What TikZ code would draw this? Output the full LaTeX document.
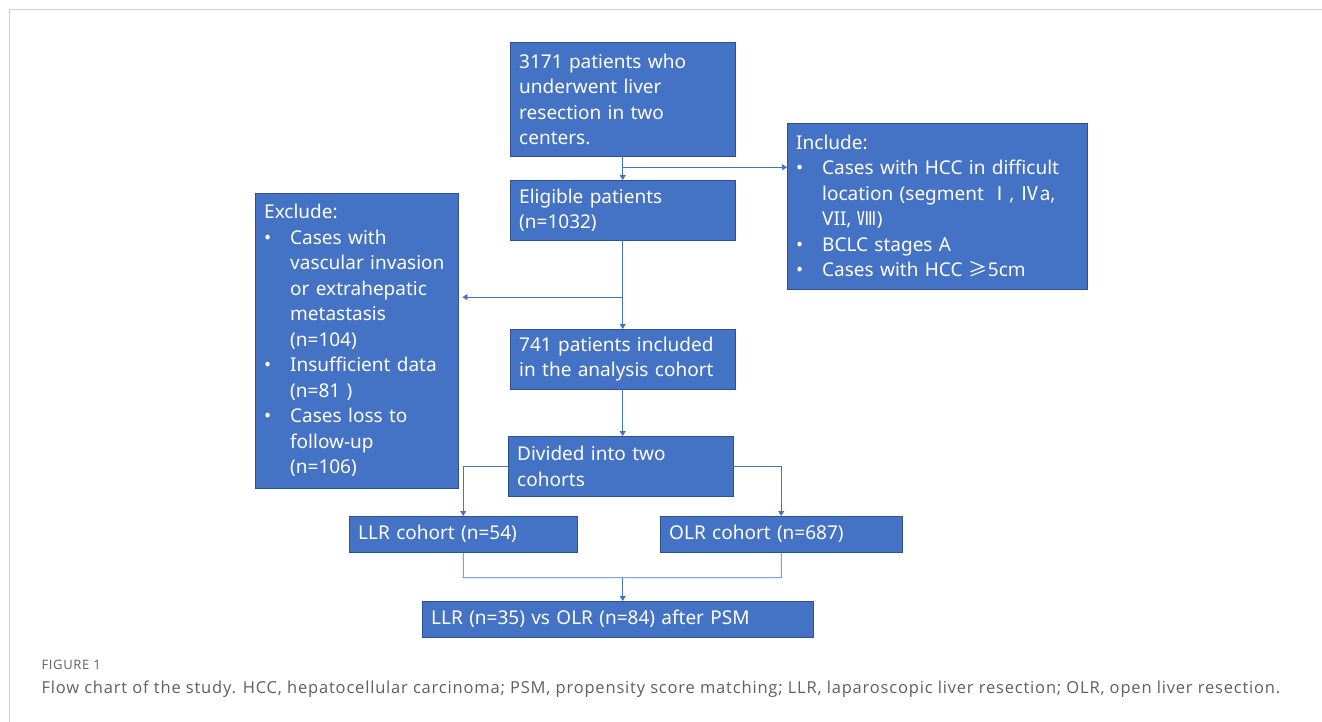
\documentclass[tikz,border=0pt]{standalone}
\usepackage{fontspec}
\setmainfont{Noto Sans}
\newfontfamily\cjk{Noto Sans CJK SC}
\newfontfamily\capfont[LetterSpace=5]{Open Sans}
\usetikzlibrary{arrows.meta,calc}
\definecolor{boxblue}{RGB}{68,114,196}
\definecolor{boxedge}{RGB}{47,82,143}
\definecolor{capgray}{RGB}{95,95,95}
\definecolor{framegray}{RGB}{205,205,205}
\newcommand{\bul}{\makebox[26pt][l]{\textbullet}}
\newcommand{\ind}{\hspace*{26pt}}

\begin{document}
\begin{tikzpicture}[x=1pt, y=-1pt,
    box/.style={draw=boxedge, fill=boxblue, text=white, anchor=north west,
      inner xsep=9pt, inner ysep=3pt, align=left,
      font=\fontsize{19}{25.5}\selectfont},
    link/.style={draw=boxblue, line width=0.8pt},
    arr/.style={link, -{Triangle[width=6pt,length=5pt]}}]

    \useasboundingbox (0,0) rectangle (1322,722);
    \draw[framegray] (9,722) -- (9,9) -- (1322,9);

    % boxes
    \node[box, minimum width=225pt, minimum height=114pt, text width=207pt] (start) at (510,42)
      {3171 patients who\\underwent liver\\resection in two\\centers.};
    \node[box, minimum width=225pt, minimum height=60pt, text width=207pt] (elig) at (510,180)
      {Eligible patients\\(n=1032)};
    \node[box, minimum width=300pt, minimum height=166pt, text width=282pt] (incl) at (787,123)
      {Include:\\
       \bul Cases with HCC in difficult\\
       \ind location (segment {\cjk Ⅰ}, {\cjk Ⅳ}a,\\
       \ind VII, {\cjk Ⅷ})\\
       \bul BCLC stages A\\
       \bul Cases with HCC {\cjk ≥}5cm};
    \node[box, minimum width=203pt, minimum height=295pt, text width=185pt] (excl) at (255,193)
      {Exclude:\\
       \bul Cases with\\
       \ind vascular invasion\\
       \ind or extrahepatic\\
       \ind metastasis\\
       \ind (n=104)\\
       \bul Insufficient data\\
       \ind (n=81 )\\
       \bul Cases loss to\\
       \ind follow-up\\
       \ind (n=106)};
    \node[box, minimum width=225pt, minimum height=60pt, text width=207pt] (anal) at (510,329)
      {741 patients included\\in the analysis cohort};
    \node[box, minimum width=225pt, minimum height=60pt, text width=207pt] (div) at (508,436)
      {Divided into two\\cohorts};
    \node[box, minimum width=228pt, minimum height=36pt, text width=210pt] (llr) at (349,516)
      {LLR cohort (n=54)};
    \node[box, minimum width=242pt, minimum height=36pt, text width=224pt] (olr) at (660,516)
      {OLR cohort (n=687)};
    \node[box, minimum width=391pt, minimum height=36pt, text width=373pt] (psm) at (422,601)
      {LLR (n=35) vs OLR (n=84) after PSM};

    % connectors
    \coordinate (j1) at ($(start.south)!0.46!(elig.north)$);
    \coordinate (j2) at ($(elig.south)!0.64!(anal.north)$);
    \coordinate (j3) at ($(llr.south)!0.52!(psm.north -| llr.south)$);
    \draw[arr] (start.south) -- (elig.north);
    \draw[arr] (j1) -- (j1 -| incl.west);
    \draw[arr] (elig.south) -- (anal.north);
    \draw[arr, shorten >=4pt] (j2) -- (j2 -| excl.east);
    \draw[arr] (anal.south) -- (anal.south |- div.north);
    \draw[arr] (div.west) -| (llr.north);
    \draw[arr] (div.east) -| (olr.north);
    \draw[link] (llr.south) -- (j3) -| (olr.south);
    \draw[arr] (j3 -| start.south) -- (start.south |- psm.north);

    % caption
    \node[anchor=west, text=capgray, font=\capfont\fontsize{13}{15}\selectfont] (fig) at (38,665) {FIGURE 1};
    \node[anchor=west, text=capgray, font=\capfont\fontsize{16.5}{19}\selectfont] (cap) at (38,689)
      {Flow chart of the study. HCC, hepatocellular carcinoma; PSM, propensity score matching; LLR, laparoscopic liver resection; OLR, open liver resection.};
\end{tikzpicture}
\end{document}
